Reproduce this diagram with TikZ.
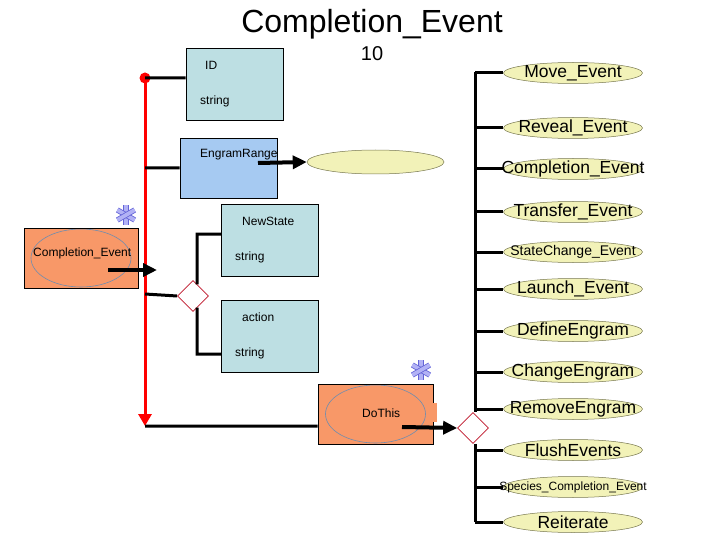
\documentclass[tikz,border=0pt]{standalone}
\usepackage{fontspec}
\setmainfont{Liberation Sans}
\usetikzlibrary{shapes.geometric, positioning, arrows.meta}

\definecolor{fieldcyan}{RGB}{189,223,227}
\definecolor{rangeblue}{RGB}{166,202,242}
\definecolor{eventorange}{RGB}{248,152,104}
\definecolor{evyellow}{RGB}{242,242,184}
\definecolor{evline}{RGB}{120,120,80}
\definecolor{diared}{RGB}{190,20,40}
\definecolor{steel}{RGB}{110,140,175}
\definecolor{astlight}{RGB}{178,178,245}
\definecolor{astdark}{RGB}{100,100,215}

\begin{document}
\begin{tikzpicture}[x=1pt, y=-1pt,
    fieldbox/.style={rectangle, draw, line width=0.9pt, fill=fieldcyan, minimum width=97pt, minimum height=72pt, inner sep=0pt},
    eventbox/.style={rectangle, draw, line width=0.9pt, fill=eventorange, minimum width=114pt, minimum height=60pt, inner sep=0pt,
        path picture={\draw[steel, line width=0.6pt] (path picture bounding box.center) ellipse (50pt and 29pt);}},
    evoval/.style={ellipse, draw=evline, line width=0.5pt, fill=evyellow, minimum width=139pt, minimum height=21pt, inner sep=0pt},
    choice/.style={diamond, draw=diared, line width=0.7pt, fill=white, minimum width=31pt, minimum height=31pt, inner sep=0pt},
    fieldtext/.style={font=\fontsize{12}{14}\selectfont, inner sep=0pt, anchor=west},
    link/.style={line width=3pt},
    flow/.style={line width=4pt, -{Triangle[length=14pt, width=13pt]}},
    asterisk/.style={draw=astdark, double=astlight, line width=0.8pt, double distance=3.8pt}
]
    \useasboundingbox (0,0) rectangle (720,540);

    \node[font=\fontsize{32}{38}\selectfont, anchor=base] (title) at (372,33) {Completion\_Event};
    \node[font=\fontsize{20}{24}\selectfont, anchor=base] (count) at (372,61) {10};

    \node[fieldbox] (idbox) at (234.5,84) {};
    \node[fieldtext] (idname) at (205,65) {ID};
    \node[fieldtext] (idtype) at (200,101) {string};

    \node[fieldbox, fill=rangeblue, minimum height=60pt] (range) at (228.5,168) {};
    \node[fieldtext] (rangename) at (200,155) {EngramRange};
    \node[ellipse, draw=evline, line width=0.5pt, fill=evyellow, minimum width=137pt, minimum height=24pt] (rangeoval) at (375.5,162) {};

    \node[fieldbox] (newstate) at (270,240) {};
    \node[fieldtext] (newstatename) at (242,221) {NewState};
    \node[fieldtext] (newstatetype) at (235,257) {string};

    \node[fieldbox] (action) at (270,336) {};
    \node[fieldtext] (actionname) at (242,317) {action};
    \node[fieldtext] (actiontype) at (235,353) {string};

    \node[eventbox] (completion) at (81,258) {};
    \node[fieldtext] (completionname) at (33,253) {Completion\_Event};

    \node[eventbox, minimum width=115pt] (dothis) at (375.5,414) {};
    \fill[eventorange] (432.5,403) rectangle (437,422);
    \node[fieldtext] (dothisname) at (362,413) {DoThis};

    \node[choice] (split) at (193,296) {};
    \node[choice] (fork) at (473,428) {};

    \coordinate (redtop) at (145,78);
    \coordinate (taprange) at (145,168);
    \coordinate (tapsplit) at (145,294);
    \coordinate (redbot) at (145,426);
    \coordinate (cstart) at (108,270);
    \coordinate (cend) at (157,270);
    \coordinate (rstart) at (258,163);
    \coordinate (dstart) at (402,427);
    \coordinate (railtop) at (475,72);
    \coordinate (railbot) at (475,522);
    \coordinate (mark1) at (126,215);
    \coordinate (mark2) at (421,370);

    \draw[red, line width=3pt, -{Triangle[length=12pt, width=13pt]}] (redtop) -- (redbot);
    \fill[red] (redtop) circle (5.5);
    \draw[link] (redtop) -- (redtop -| idbox.west)
        (taprange) -- (range.west)
        (tapsplit) -- (split.west)
        (redbot) -- (redbot -| dothis.west)
        (split.70) |- ([yshift=6pt]newstate.west)
        (split.-70) |- ([yshift=-18pt]action.west);
    \draw[flow] (cstart) -- (cend);
    \draw[flow] (rstart) -- (rangeoval.west);
    \draw[flow] (dstart) -- (fork.west);

    \draw[link] (railtop) -- (railtop |- fork.north)
        (railbot |- fork.south) -- (railbot);
    \foreach \y/\name/\txt/\sz in {73/move/Move\_Event/17.5, 128/reveal/Reveal\_Event/17.5,
        169/complete/Completion\_Event/17.5, 212/transfer/Transfer\_Event/17.5,
        252/statechange/StateChange\_Event/14, 289/launch/Launch\_Event/17.5,
        331/define/DefineEngram/17.5, 372/change/ChangeEngram/17.5,
        409/remove/RemoveEngram/17.5, 450/flush/FlushEvents/17.5,
        487/species/Species\_Completion\_Event/12, 522/reiterate/Reiterate/17.5}
    {
        \coordinate (\name-tap) at (475,\y);
        \node[evoval, label={[font=\fontsize{\sz}{\sz}\selectfont, inner sep=0pt]center:\txt}] (\name) at (573,\y) {};
        \draw[link] (\name-tap) -- (\name.west);
    }

    \foreach \a in {90,30,-30} {
        \draw[asterisk] (mark1) ++(\a:10) -- ++(\a+180:20);
        \draw[asterisk] (mark2) ++(\a:10) -- ++(\a+180:20);
    }
\end{tikzpicture}
\end{document}
